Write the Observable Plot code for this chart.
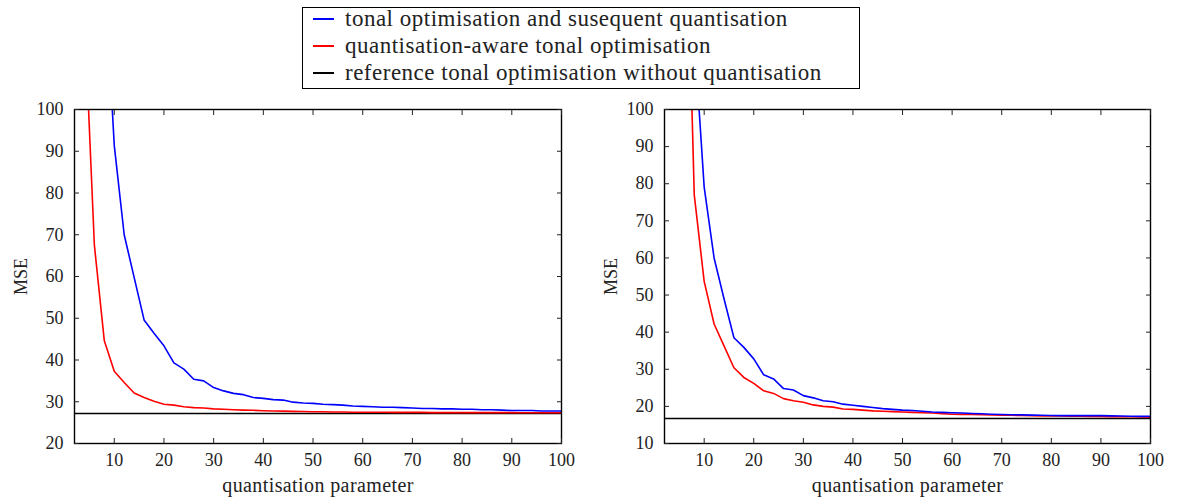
<!DOCTYPE html>
<html><head><meta charset="utf-8">
<script src="https://cdn.jsdelivr.net/npm/d3@7"></script>
<script src="https://cdn.jsdelivr.net/npm/@observablehq/plot@0.6"></script>
<style>
body{margin:0;background:#fff;width:1178px;height:500px;overflow:hidden;font-family:"Times New Roman","Liberation Serif","DejaVu Serif",serif;}
#legend{position:relative;height:95px;}
#box{position:absolute;left:302px;top:7px;width:558px;height:82px;box-sizing:border-box;border:1px solid #000;}
.row{position:absolute;left:10px;height:27px;display:flex;align-items:center;font-size:23px;letter-spacing:0.5px;color:#222;white-space:nowrap;}
.sw{width:21px;height:2px;margin-right:11px;flex:none;}
#charts{display:flex;}
svg text{font-family:"Times New Roman","Liberation Serif","DejaVu Serif",serif;}
g[aria-label="x-axis label"] text{letter-spacing:0.4px;}
</style></head>
<body>
<div id="legend"><div id="box"></div></div>
<div id="charts"></div>
<script>
// ---- data ----
const seriesNames = [
  "tonal optimisation and susequent quantisation",
  "quantisation-aware tonal optimisation",
  "reference tonal optimisation without quantisation"
];
const seriesColors = ["#0000ff", "#ff0000", "#000000"];

const qp = [4,6,8,10,12,14,16,18,20,22,24,26,28,30,32,34,36,38,40,42,44,46,48,50,
            52,54,56,58,60,62,64,66,68,70,72,74,76,78,80,82,84,86,88,90,92,94,96,98,100];

const leftBlue = [null,null,135,91.4,70.0,59.8,49.6,46.4,43.4,39.3,37.8,35.4,35.0,33.4,32.6,32.0,31.7,31.0,30.8,30.5,30.4,29.9,29.7,29.6,
                  29.4,29.3,29.2,29.0,28.9,28.8,28.7,28.7,28.6,28.5,28.4,28.4,28.3,28.3,28.2,28.2,28.1,28.1,28.0,27.9,27.9,27.9,27.8,27.8,27.8];
const leftRed = [123,67.5,44.6,37.3,34.6,32.1,31.0,30.1,29.4,29.2,28.8,28.6,28.5,28.3,28.2,28.1,28.0,27.95,27.85,27.8,27.75,27.7,27.65,27.6,
                 27.6,27.55,27.55,27.5,27.5,27.5,27.5,27.45,27.45,27.45,27.45,27.4,27.4,27.4,27.4,27.4,27.4,27.4,27.4,27.4,27.35,27.35,27.35,27.35,27.35];
const leftRef = 27.2;

const rightBlue = [null,null,120,79.1,60.0,49.0,38.5,35.9,32.8,28.5,27.4,24.8,24.4,22.9,22.3,21.5,21.25,20.6,20.3,20.0,19.7,19.4,19.2,19.0,
                   18.9,18.7,18.5,18.4,18.3,18.2,18.1,18.0,17.9,17.8,17.75,17.7,17.65,17.6,17.55,17.5,17.5,17.5,17.5,17.5,17.45,17.4,17.35,17.3,17.3];
const rightRed = [null,177,77.0,53.7,42.2,36.3,30.4,27.8,26.2,24.2,23.5,22.1,21.5,21.1,20.4,20.0,19.8,19.3,19.2,19.0,18.8,18.7,18.6,18.5,
                  18.4,18.3,18.2,18.05,17.9,17.85,17.8,17.75,17.7,17.65,17.6,17.55,17.5,17.45,17.4,17.4,17.35,17.35,17.3,17.3,17.25,17.2,17.2,17.15,17.1];
const rightRef = 16.75;

const xTicks = [10,20,30,40,50,60,70,80,90,100];
const yTicksLeft = [20,30,40,50,60,70,80,90,100];
const yTicksRight = [10,20,30,40,50,60,70,80,90,100];
const xLabel = "quantisation parameter";
const yLabel = "MSE";

// ---- legend ----
const box = document.getElementById("box");
seriesNames.forEach((name, i) => {
  const row = document.createElement("div");
  row.className = "row";
  row.style.top = (-2.5 + 27 * i) + "px";
  const sw = document.createElement("span");
  sw.className = "sw";
  sw.style.background = seriesColors[i];
  const t = document.createElement("span");
  t.textContent = name;
  row.appendChild(sw); row.appendChild(t);
  box.appendChild(row);
});

// ---- charts ----
const FONT = "'Times New Roman', 'Liberation Serif', 'DejaVu Serif', serif";
function toRows(vals) {
  return qp.map((x, i) => ({x, y: vals[i]})).filter(d => d.y != null);
}
function chart({blue, red, ref, yDomain, yTicks, marginLeft}) {
  const blank = () => "";
  return Plot.plot({
    width: 589, height: 405,
    marginLeft, marginRight: 28, marginTop: 14, marginBottom: 57,
    x: {domain: [2, 100]},
    y: {domain: yDomain},
    style: {fontFamily: FONT, fontSize: "18px", color: "#222", background: "white", overflow: "visible"},
    marks: [
      Plot.ruleY([ref], {stroke: seriesColors[2], strokeWidth: 1.6}),
      Plot.line(toRows(red), {x: "x", y: "y", stroke: seriesColors[1], strokeWidth: 1.6, clip: true}),
      Plot.line(toRows(blue), {x: "x", y: "y", stroke: seriesColors[0], strokeWidth: 1.6, clip: true}),
      Plot.frame({stroke: "#000", strokeWidth: 1.4}),
      // tick labels
      Plot.axisX({ticks: xTicks, anchor: "bottom", tickSize: 0, tickPadding: 10, label: null}),
      Plot.axisY({ticks: yTicks, anchor: "left", tickSize: 0, tickPadding: 11, label: null}),
      // axis titles
      Plot.axisX({ticks: xTicks, anchor: "bottom", tickSize: 0, tickFormat: blank, label: xLabel, labelAnchor: "center", labelOffset: 48, labelArrow: "none", fontSize: 20}),
      Plot.axisY({ticks: yTicks, anchor: "left", tickSize: 0, tickFormat: blank, label: yLabel, labelAnchor: "center", labelOffset: 60, labelArrow: "none", fontSize: 18}),
      // inward tick marks on all four sides
      Plot.axisX({ticks: xTicks, anchor: "bottom", tickSize: 5, dy: -5, tickFormat: blank, label: null, stroke: "#222"}),
      Plot.axisX({ticks: xTicks, anchor: "top", tickSize: 5, dy: 5, tickFormat: blank, label: null, stroke: "#222"}),
      Plot.axisY({ticks: yTicks, anchor: "left", tickSize: 5, dx: 5, tickFormat: blank, label: null, stroke: "#222"}),
      Plot.axisY({ticks: yTicks, anchor: "right", tickSize: 5, dx: -5, tickFormat: blank, label: null, stroke: "#222"})
    ]
  });
}
const charts = document.getElementById("charts");
charts.appendChild(chart({blue: leftBlue, red: leftRed, ref: leftRef, yDomain: [20, 100], yTicks: yTicksLeft, marginLeft: 74}));
charts.appendChild(chart({blue: rightBlue, red: rightRed, ref: rightRef, yDomain: [10, 100], yTicks: yTicksRight, marginLeft: 75}));
</script>
</body></html>
